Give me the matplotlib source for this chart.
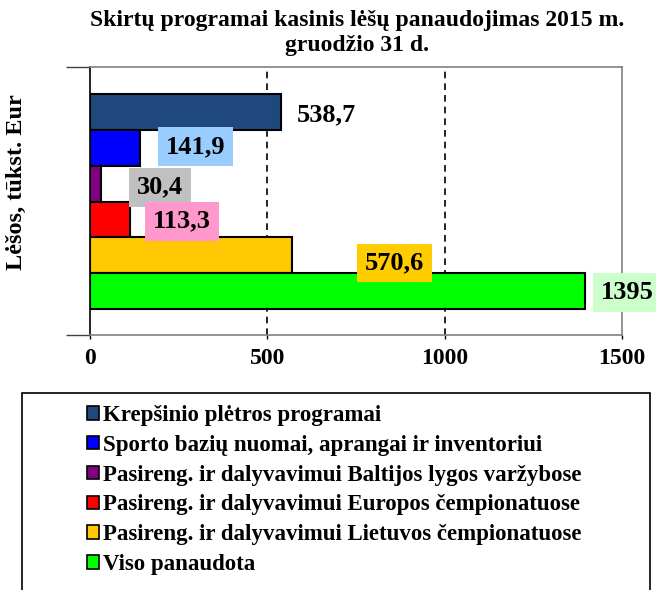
import matplotlib
matplotlib.use("Agg")
import matplotlib.pyplot as plt
from matplotlib.patches import Patch, Rectangle

plt.rcParams['font.family'] = ['Liberation Serif', 'DejaVu Serif']
plt.rcParams['font.weight'] = 'bold'

categories = [
    "Krepšinio plėtros programai",
    "Sporto bazių nuomai, aprangai ir inventoriui",
    "Pasireng. ir dalyvavimui Baltijos lygos varžybose",
    "Pasireng. ir dalyvavimui Europos čempionatuose",
    "Pasireng. ir dalyvavimui Lietuvos čempionatuose",
    "Viso panaudota",
]
values = [538.7, 141.9, 30.4, 113.3, 570.6, 1395]
value_labels = ["538,7", "141,9", "30,4", "113,3", "570,6", "1395"]
xticks = [0, 500, 1000, 1500]
title = "Skirtų programai kasinis lėšų panaudojimas 2015 m.\ngruodžio 31 d."
ylabel = "Lėšos, tūkst. Eur"

colors = ["#1F497D", "#0000FF", "#800080", "#FF0000", "#FFC800", "#00FF00"]
label_bg = [None, "#99CCFF", "#C0C0C0", "#FF99CC", "#FFCC00", "#CCFFCC"]
label_x = [584, 298, 198, 259, 858, 1515]
label_ha = ["left", "center", "center", "center", "center", "center"]
label_dy = [0.08, -0.04, 0.1, 0.05, 0.22, 0.05]

fig = plt.figure(figsize=(6.56, 5.90), dpi=100)
ax = fig.add_axes([90/656, 1-335/590, (622-90)/656, (335-67)/590])

ypos = list(range(len(values)))
ax.barh(ypos, values, height=1.0, color=colors, edgecolor='black', linewidth=1.5, zorder=3)

top_lim = -1.26
bot_lim = 6.23
ax.set_ylim(bot_lim, top_lim)
ax.set_xlim(0, 1500)
ax.set_yticks([top_lim, bot_lim])
ax.set_yticklabels([])
ax.tick_params(axis='y', length=17, width=1.0, color='#404040', direction='out')
ax.set_xticks(xticks)
ax.set_xticklabels([str(t) for t in xticks], fontsize=17, fontweight='bold')
ax.tick_params(axis='x', length=3, width=1.0, pad=6)
for t in [500, 1000]:
    ax.axvline(t, color='black', linestyle=(0, (4, 3)), linewidth=1.2, zorder=1)

ax.spines['left'].set_color('black')
ax.spines['left'].set_linewidth(1.2)
for s in ['top', 'right', 'bottom']:
    ax.spines[s].set_color('#808080')
    ax.spines[s].set_linewidth(1.2)

for i, (lx, lab, bg, ha, dy) in enumerate(zip(label_x, value_labels, label_bg, label_ha, label_dy)):
    kw = {}
    if bg:
        kw['bbox'] = dict(boxstyle='square,pad=0.3', facecolor=bg, edgecolor='none')
    ax.text(lx, i + dy, lab, ha=ha, va='center', fontsize=19, fontweight='bold',
            zorder=5, clip_on=False, **kw)

fig.text(357/656, 1-33/590, title, ha='center', va='center', fontsize=17,
         fontweight='bold', linespacing=1.3)
fig.text(16/656, 1-182/590, ylabel, ha='center', va='center', rotation=90,
         fontsize=17.5, fontweight='bold')

# legend frame
fig.add_artist(Rectangle((22/656, -0.05), (650-22)/656, (1-392.5/590) + 0.05,
                         transform=fig.transFigure, facecolor='white',
                         edgecolor='black', linewidth=1.2))
handles = [Patch(facecolor=c, edgecolor='black', linewidth=1.2) for c in colors]
leg = fig.legend(handles, categories, loc='upper left',
                 bbox_to_anchor=(87/656, 1-405/590), frameon=False,
                 prop={'family': ['Liberation Serif'], 'weight': 'bold', 'size': 16.5},
                 handlelength=0.53, handleheight=0.53, handletextpad=0.17,
                 labelspacing=0.385, borderpad=0, borderaxespad=0)

fig.savefig("out.png", dpi=100)
